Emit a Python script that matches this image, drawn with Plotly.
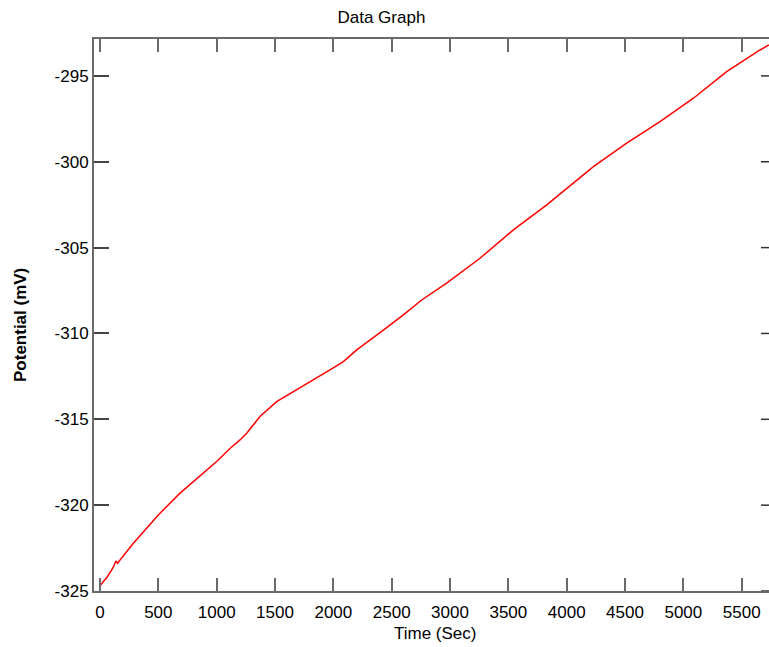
import plotly.graph_objects as go

time_sec = [0, 60, 100, 115, 137, 150, 286, 500, 686, 886, 1000, 1114, 1200, 1257,
            1371, 1514, 1686, 1971, 2086, 2200, 2400, 2600, 2757, 2971, 3257, 3543,
            3829, 4000, 4229, 4514, 4800, 5086, 5371, 5657, 5734]
potential_mv = [-324.69, -324.2, -323.77, -323.6, -323.25, -323.38, -322.22, -320.57,
                -319.3, -318.14, -317.46, -316.7, -316.2, -315.81, -314.84, -313.97,
                -313.29, -312.12, -311.64, -310.96, -309.95, -308.92, -308.05, -307.07,
                -305.62, -303.97, -302.51, -301.54, -300.28, -298.92, -297.66, -296.30,
                -294.75, -293.49, -293.2]

x_ticks = [0, 500, 1000, 1500, 2000, 2500, 3000, 3500, 4000, 4500, 5000, 5500]
y_ticks = [-325, -320, -315, -310, -305, -300, -295]
y_tick_text = ["-325", "-320", "-315", "-310", "-305", "-300", "-295"]

W, H = 769, 647
L, R, T, B = 94, 0, 39, 56
plot_w = W - L - R
plot_h = H - T - B

fig = go.Figure()
fig.add_trace(go.Scatter(x=time_sec, y=potential_mv, mode="lines",
                         line=dict(color="#ff0000", width=1.5), showlegend=False))

font = "Liberation Sans, Arial, sans-serif"
axis_col = "#6a6a6a"

shapes = []
for v in y_ticks:
    shapes.append(dict(type="line", xref="paper", yref="y", x0=1 - 8 / plot_w, x1=1,
                       y0=v, y1=v, line=dict(color="#333333", width=1.5)))

annotations = [
    dict(text="Time (Sec)", xref="paper", yref="paper",
         x=(435 - L) / plot_w, y=-(633 - (H - B)) / plot_h,
         xanchor="center", yanchor="middle", showarrow=False,
         font=dict(family=font, size=17, color="black")),
    dict(text="<b>Potential (mV)</b>", xref="paper", yref="paper",
         x=-(L - 20) / plot_w, y=((H - B) - 325) / plot_h, textangle=-90,
         xanchor="center", yanchor="middle", showarrow=False,
         font=dict(family=font, size=17, color="black")),
]

fig.update_layout(
    width=W, height=H,
    margin=dict(l=L, r=R, t=T, b=B),
    paper_bgcolor="white", plot_bgcolor="white",
    title=dict(text="Data Graph", x=0.496, xref="container", xanchor="center",
               y=1 - 17 / H, yref="container", yanchor="middle",
               font=dict(family=font, size=17, color="black")),
    shapes=shapes,
    annotations=annotations,
    xaxis=dict(range=[-51.4, 5734], tickvals=x_ticks, ticks="inside", ticklen=13,
               tickwidth=2, tickcolor=axis_col, showline=True, linewidth=2,
               linecolor=axis_col, mirror="ticks", showgrid=False, zeroline=False,
               ticklabelstandoff=5,
               tickfont=dict(family=font, size=17, color="black")),
    yaxis=dict(range=[-325.0, -292.85], tickvals=y_ticks, ticktext=y_tick_text,
               ticks="inside", ticklen=15,
               tickwidth=1.5, tickcolor="#444444", showline=True, linewidth=2,
               linecolor=axis_col, showgrid=False, zeroline=False,
               tickfont=dict(family=font, size=17, color="black")),
)

fig.write_html("out.html", config={"displayModeBar": False}, post_script=(
    "document.body.style.margin='0';"
    "document.body.style.overflow='hidden';"
    "document.documentElement.style.overflow='hidden';"))
